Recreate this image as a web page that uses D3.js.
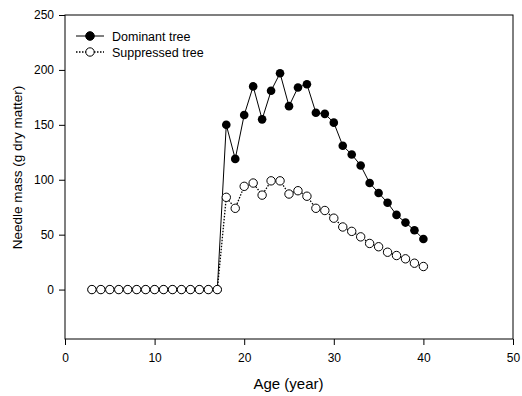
<!DOCTYPE html>
<html><head><meta charset="utf-8">
<script src="https://cdn.jsdelivr.net/npm/d3@7"></script>
<style>body{margin:0;background:#fff}svg{display:block}text{font-family:"Liberation Sans",Arial,sans-serif;fill:#000}</style>
</head><body>
<script>
const ages = [3,4,5,6,7,8,9,10,11,12,13,14,15,16,17,18,19,20,21,22,23,24,25,26,27,28,29,30,31,32,33,34,35,36,37,38,39,40];
const dominant = [0,0,0,0,0,0,0,0,0,0,0,0,0,0,0,150,119,159,185,155,181,197,167,184,187,161,160,152,131,123,113,97,88,79,68,61,54,46];
const suppressed = [0,0,0,0,0,0,0,0,0,0,0,0,0,0,0,84,74,94,97,86,99,99,87,90,85,74,72,65,57,53,48,42,39,34,31,28,24,21];
const xTicks = [0,10,20,30,40,50];
const yTicks = [0,50,100,150,200,250];
const seriesNames = ["Dominant tree","Suppressed tree"];

const W=522,H=396;
const svg=d3.select("body").append("svg").attr("width",W).attr("height",H);
const L=65,R=513,T=15,B=339;
const x=d3.scaleLinear().domain([0,50]).range([L,R]);
const y=d3.scaleLinear().domain([-45,250]).range([B,T]);

svg.append("rect").attr("x",L).attr("y",T).attr("width",R-L).attr("height",B-T).attr("fill","none").attr("stroke","#000").attr("stroke-width",1);

const xa=svg.append("g").attr("transform",`translate(0,${B})`).call(d3.axisBottom(x).tickValues(xTicks).tickSize(6).tickPadding(8).tickFormat(d3.format("d")));
const ya=svg.append("g").attr("transform",`translate(${L},0)`).call(d3.axisLeft(y).tickValues(yTicks).tickSize(6).tickPadding(5).tickFormat(d3.format("d")));
[xa,ya].forEach(a=>{a.select(".domain").remove();a.selectAll("text").style("font-size","12px").style("font-family","'Liberation Sans',Arial,sans-serif");a.selectAll("line").attr("stroke","#000");});

svg.append("text").attr("x",288.5).attr("y",389).attr("text-anchor","middle").style("font-size","15px").text("Age (year)");
svg.append("text").attr("transform",`translate(21.5,167.5) rotate(-90)`).attr("text-anchor","middle").style("font-size","13.5px").text("Needle mass (g dry matter)");

const ln=d3.line().x((d,i)=>x(ages[i])).y(d=>y(d));
svg.append("path").datum(dominant).attr("d",ln).attr("fill","none").attr("stroke","#000").attr("stroke-width",1);
svg.append("path").datum(suppressed).attr("d",ln).attr("fill","none").attr("stroke","#000").attr("stroke-width",1.3).attr("stroke-dasharray","1.5,1.5");

svg.append("g").selectAll("circle").data(dominant).join("circle").attr("cx",(d,i)=>x(ages[i])).attr("cy",d=>y(d)).attr("r",4.3).attr("fill","#000");
svg.append("g").selectAll("circle").data(suppressed).join("circle").attr("cx",(d,i)=>x(ages[i])).attr("cy",d=>y(d)).attr("r",4.2).attr("fill","#fff").attr("stroke","#000").attr("stroke-width",1);

// legend
const lg=svg.append("g");
[[36,false],[52,true]].forEach(([yy,sup],k)=>{
  lg.append("line").attr("x1",76).attr("x2",104).attr("y1",yy).attr("y2",yy).attr("stroke","#000").attr("stroke-width",sup?1.3:1).attr("stroke-dasharray",sup?"1.5,1.5":null);
  lg.append("circle").attr("cx",90).attr("cy",yy).attr("r",sup?4.2:4.3).attr("fill",sup?"#fff":"#000").attr("stroke","#000");
  lg.append("text").attr("x",112).attr("y",yy+4.5).style("font-size","12.5px").text(seriesNames[k]);
});
</script>
</body></html>
